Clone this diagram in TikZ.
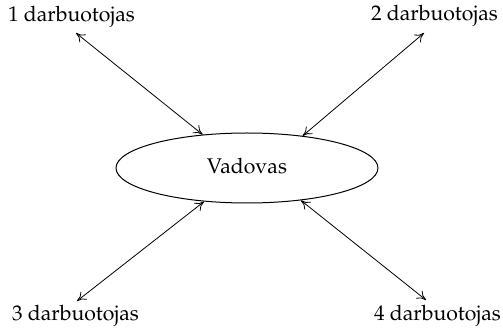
\documentclass[tikz,border=0pt]{standalone}
\usepackage[T1]{fontenc}
\usepackage{mathpazo}
\usetikzlibrary{shapes.geometric,arrows.meta}
\begin{document}
\begin{tikzpicture}[x=0.5pt,y=-0.5pt,
  label/.style={inner sep=0pt,font=\fontsize{10.6}{13}\selectfont},
  boss/.style={draw,ellipse,line width=0.5pt,minimum width=131pt,minimum height=35pt,inner sep=0pt},
  link/.style={{To[length=4.5pt,width=5pt]}-{To[length=4.5pt,width=5pt]},line width=0.4pt}]
\useasboundingbox (0,0) rectangle (503,331);
% central node
\node[boss] (v) at (247,168) {};
\node[label] (vt) at (247,166) {Vadovas};
% workers
\node[label] (w1) at (71.5,16.5) {1 darbuotojas};
\node[label] (w2) at (434.5,15.5) {2 darbuotojas};
\node[label] (w3) at (75.5,316) {3 darbuotojas};
\node[label] (w4) at (437.5,316) {4 darbuotojas};
% arrow end points just beside the worker labels
\coordinate (e1) at (76,33);
\coordinate (e2) at (424,33);
\coordinate (e3) at (77,301);
\coordinate (e4) at (426,300);
\draw[link] (e1) -- (v.143);
\draw[link] (e2) -- (v.30);
\draw[link] (e3) -- (v.-142);
\draw[link] (e4) -- (v.-31);
\end{tikzpicture}
\end{document}
